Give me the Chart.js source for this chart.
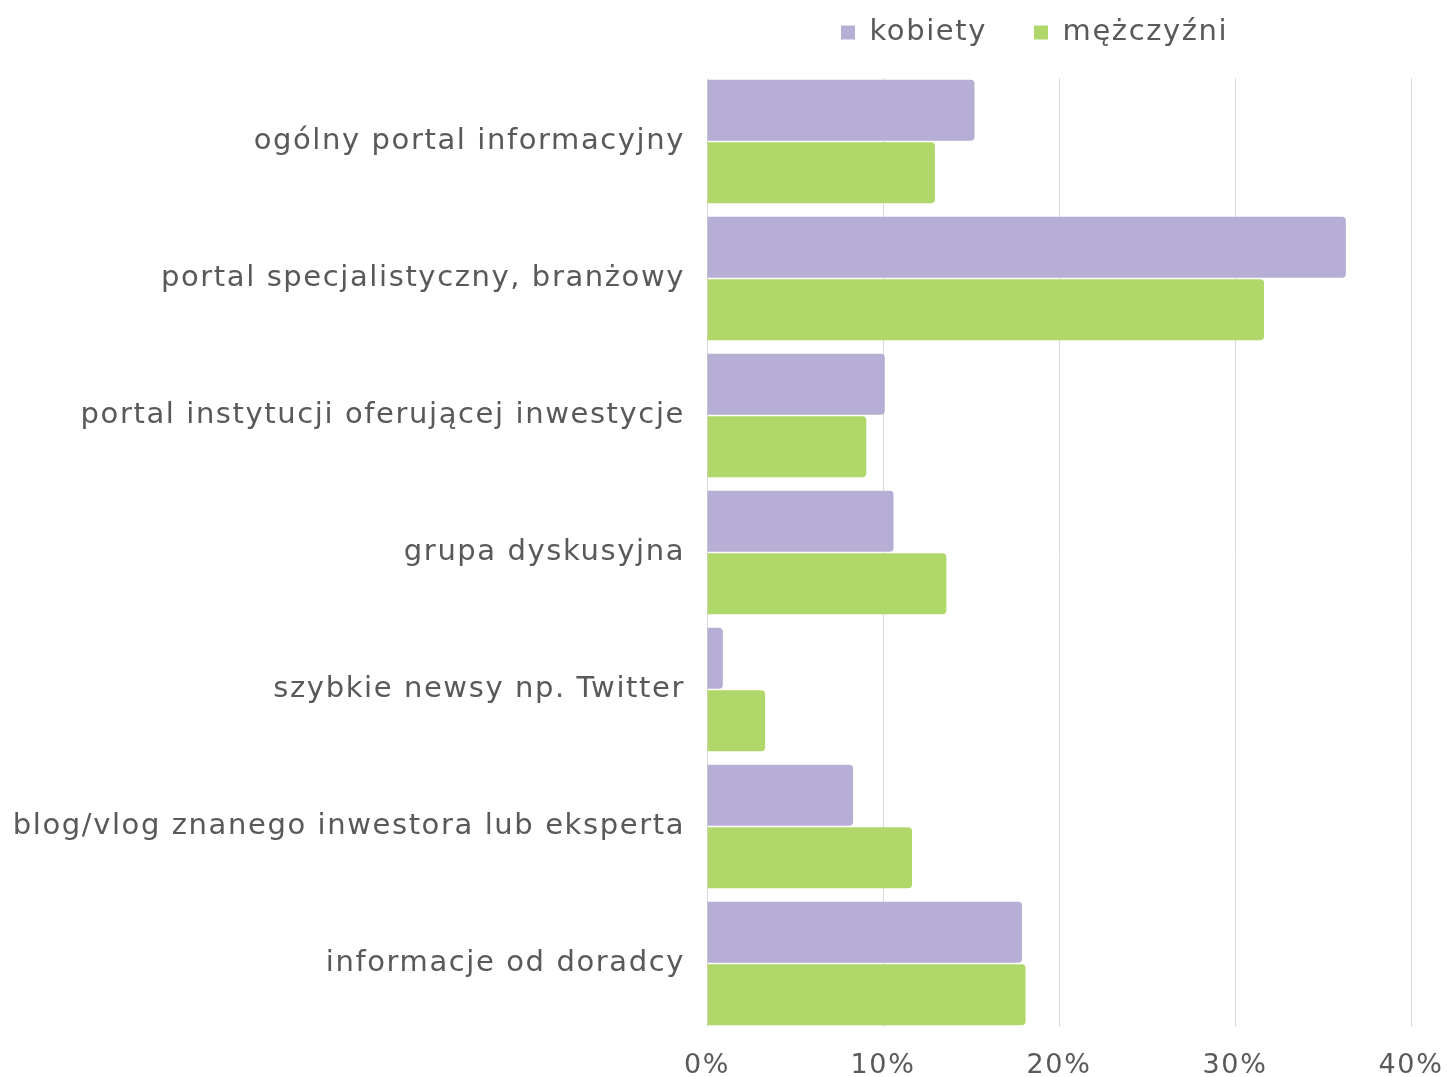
<!DOCTYPE html>
<html><head><meta charset="utf-8">
<script src="https://cdn.jsdelivr.net/npm/chart.js@4.4.1/dist/chart.umd.min.js"></script>
<style>html,body{margin:0;padding:0;background:#fff}</style>
</head><body><canvas id="c" width="1448" height="1077"></canvas>
<script>
const categories = [
  'ogólny portal informacyjny',
  'portal specjalistyczny, branżowy',
  'portal instytucji oferującej inwestycje',
  'grupa dyskusyjna',
  'szybkie newsy np. Twitter',
  'blog/vlog znanego inwestora lub eksperta',
  'informacje od doradcy'
];
const seriesNames = ['kobiety', 'mężczyźni'];
const kobiety = [15.2, 36.3, 10.1, 10.6, 0.9, 8.3, 17.9];
const mezczyzni = [12.95, 31.65, 9.05, 13.6, 3.3, 11.65, 18.1];
const xTicks = [0, 10, 20, 30, 40];

const FONT = "'DejaVu Sans', sans-serif";
const TEXT = '#595959';
const SPACING = '1.6px';

const textStyle = {
  id: 'textStyle',
  beforeUpdate(chart) { chart.ctx.letterSpacing = SPACING; },
  beforeLayout(chart) { chart.ctx.letterSpacing = SPACING; },
  beforeDraw(chart) { chart.ctx.letterSpacing = SPACING; }
};

const legendPlacer = {
  id: 'legendPlacer',
  beforeLayout(chart) {
    const lg = chart.legend;
    if (lg && !lg._patched) {
      const f = lg.fit;
      lg.fit = function () { f.call(this); this.height = 73; };
      lg._patched = true;
    }
  },
  afterLayout(chart) {
    const lg = chart.legend;
    lg.left = 794; lg.right = 1448;
    lg.top = -29; lg.bottom = 73;
    const xs = chart.scales.x;
    if (xs && !xs._gridPatched) {
      const g = xs.drawGrid;
      xs.drawGrid = function (area) {
        const ctx = this.ctx;
        ctx.save();
        ctx.beginPath();
        ctx.rect(area.left - 5, area.top + 5, area.right - area.left + 10, area.bottom - area.top - 10);
        ctx.clip();
        g.call(this, area);
        ctx.restore();
      };
      xs._gridPatched = true;
    }
  }
};

new Chart(document.getElementById('c'), {
  type: 'bar',
  data: {
    labels: categories,
    datasets: [
      { label: seriesNames[0], data: kobiety, backgroundColor: '#B6AED4' },
      { label: seriesNames[1], data: mezczyzni, backgroundColor: '#B0D76A' }
    ]
  },
  options: {
    indexAxis: 'y',
    responsive: false,
    animation: false,
    categoryPercentage: 0.912,
    barPercentage: 0.976,
    borderRadius: 4,
    layout: { padding: { left: 0, right: 37, top: 0, bottom: 0 } },
    plugins: {
      legend: {
        position: 'top',
        align: 'start',
        labels: {
          boxWidth: 14, boxHeight: 14, padding: 47,
          color: TEXT, font: { family: FONT, size: 29 }
        }
      },
      tooltip: { enabled: false }
    },
    scales: {
      x: {
        min: 0, max: 40,
        afterBuildTicks(s) { s.ticks = xTicks.map(v => ({ value: v })); },
        afterFit(s) { s.height = 45; s.paddingLeft = 0; s.paddingRight = 0; },
        grid: { color: '#D9D9D9', lineWidth: 1, drawTicks: false },
        border: { display: false },
        ticks: {
          padding: 18, color: TEXT, font: { family: FONT, size: 27 },
          callback: v => v + '%'
        }
      },
      y: {
        afterFit(s) { s.width = 707; s.paddingTop = 0; s.paddingBottom = 0; },
        grid: { display: false, drawTicks: false },
        border: { display: false },
        ticks: { padding: 22, color: TEXT, font: { family: FONT, size: 29 } }
      }
    }
  },
  plugins: [textStyle, legendPlacer]
});
</script></body></html>
